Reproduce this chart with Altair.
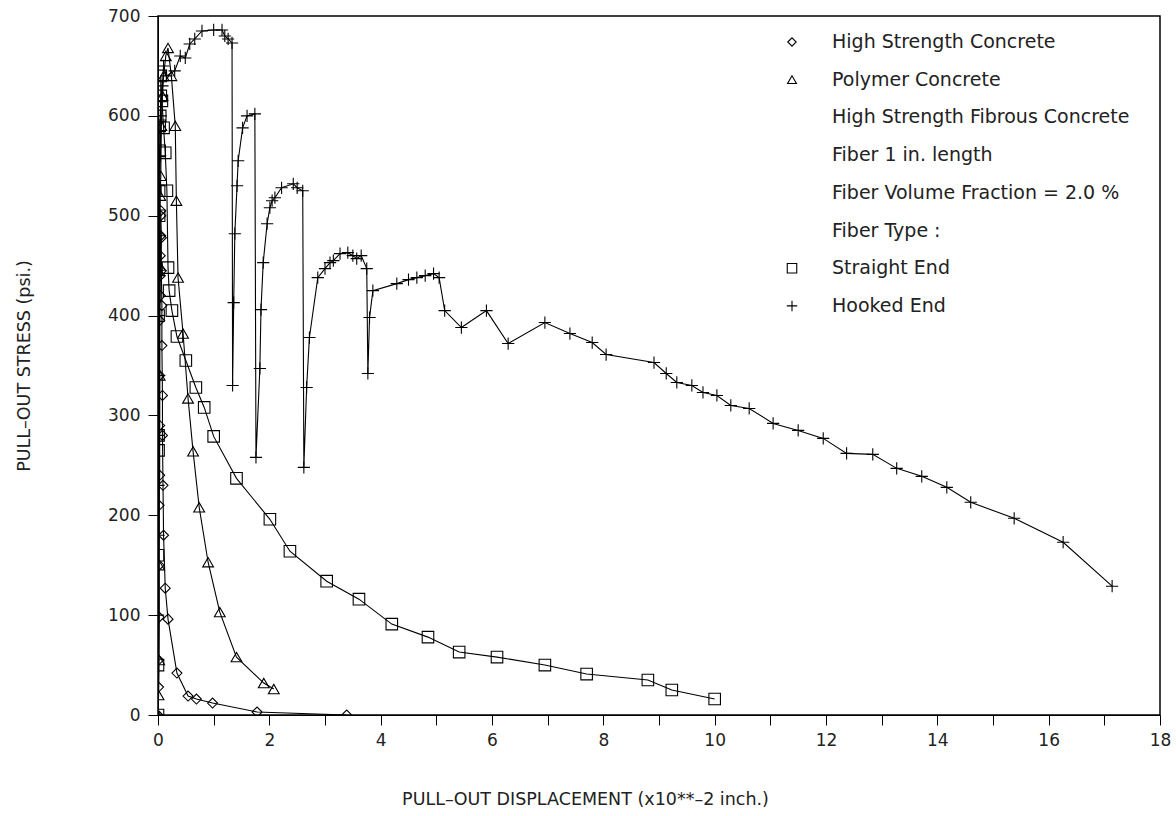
import altair as alt
import pandas as pd

# ---- data ----
hsc_x = [0, 0.01, 0.01, 0.02, 0.02, 0.02, 0.03, 0.03, 0.03, 0.03, 0.04, 0.04, 0.04, 0.05, 0.05, 0.05,
         0.06, 0.06, 0.07, 0.07, 0.08, 0.08, 0.09, 0.10, 0.13, 0.18, 0.34, 0.54, 0.69, 0.98, 1.78, 3.39]
hsc_y = [0, 28, 55, 98, 150, 210, 240, 290, 340, 395, 420, 440, 460, 480, 500, 505,
         478, 445, 410, 370, 320, 280, 230, 180, 127, 96, 42, 19, 16, 12, 3, 0]

poly_x = [0, 0.01, 0.02, 0.02, 0.03, 0.03, 0.04, 0.05, 0.06, 0.08, 0.10, 0.14, 0.18,
          0.24, 0.31, 0.33, 0.36, 0.45, 0.54, 0.63, 0.74, 0.90, 1.11, 1.41, 1.90, 2.08]
poly_y = [0, 20, 55, 150, 340, 450, 520, 540, 590, 620, 640, 660, 668,
          640, 590, 515, 438, 382, 317, 264, 208, 153, 103, 58, 32, 26]

str_x = [0, 0, 0, 0.01, 0.01, 0.01, 0.02, 0.02, 0.03, 0.03, 0.04, 0.05, 0.05,
         0.07, 0.10, 0.13, 0.16, 0.18, 0.20, 0.25, 0.34, 0.50, 0.68, 0.83, 1.00, 1.41,
         2.01, 2.37, 3.03, 3.61, 4.20, 4.85, 5.41, 6.09, 6.95, 7.70, 8.80, 9.23, 10.0]
str_y = [0, 50, 160, 265, 280, 400, 500, 525, 565, 590, 600, 620, 640,
         615, 588, 563, 525, 448, 425, 405, 379, 355, 328, 308, 279, 237,
         196, 164, 134, 116, 91, 78, 63, 58, 50, 41, 35, 25, 16]

hook_x = [0, 0, 0.01, 0.01, 0.01, 0.02, 0.02, 0.02, 0.03, 0.03, 0.04, 0.05, 0.06, 0.08, 0.10,
          0.15, 0.30, 0.40, 0.49, 0.57, 0.66, 0.79, 1.00, 1.15, 1.20, 1.26, 1.33,
          1.34, 1.36, 1.38, 1.42, 1.44, 1.52, 1.60, 1.74,
          1.76, 1.83, 1.85, 1.89, 1.96, 2.01, 2.05, 2.10, 2.22, 2.43, 2.50, 2.60,
          2.62, 2.67, 2.72, 2.87, 3.00, 3.09, 3.15, 3.27, 3.41, 3.50, 3.57, 3.65, 3.75,
          3.77, 3.80, 3.86, 4.29, 4.50, 4.65, 4.80, 4.95, 5.05, 5.15, 5.45, 5.90, 6.29,
          6.95, 7.40, 7.80, 8.05, 8.91, 9.13, 9.32, 9.59, 9.79, 10.04, 10.29, 10.62,
          11.05, 11.50, 11.95, 12.37, 12.84, 13.27, 13.72, 14.17, 14.60, 15.38, 16.26, 17.14]
hook_y = [0, 100, 180, 230, 280, 340, 400, 440, 480, 530, 560, 600, 615, 630, 650,
          640, 645, 660, 658, 672, 677, 685, 686, 686, 680, 677, 673,
          330, 413, 482, 530, 555, 588, 600, 602,
          258, 347, 406, 453, 492, 508, 515, 518, 528, 532, 528, 525,
          248, 328, 378, 438, 447, 453, 455, 462, 463, 460, 457, 460, 447,
          342, 398, 425, 432, 436, 438, 440, 442, 438, 405, 388, 405, 372,
          393, 382, 373, 361, 353, 342, 333, 330, 323, 320, 310, 307,
          292, 285, 277, 262, 261, 247, 239, 228, 213, 197, 173, 129]

series_names = ["High Strength Concrete", "Polymer Concrete", "Straight End", "Hooked End"]
legend_labels = ["High Strength Concrete", "Polymer Concrete", "High Strength Fibrous Concrete",
                 "Fiber 1 in. length", "Fiber Volume Fraction = 2.0 %", "Fiber Type :",
                 "Straight End", "Hooked End"]
x_ticks = list(range(0, 19))
y_ticks = list(range(0, 701, 100))

PLUS = "M-1,0H1M0,-1V1"
shapes = ["diamond", "triangle-up", "square", PLUS]
sizes = [100, 150, 150, 200]

rows = []
for name, xs, ys in zip(series_names, [hsc_x, poly_x, str_x, hook_x], [hsc_y, poly_y, str_y, hook_y]):
    for i, (a, b) in enumerate(zip(xs, ys)):
        rows.append({"series": name, "i": i, "x": a, "y": b})
df = pd.DataFrame(rows)

FONT = "DejaVu Sans"
W, H = 1002, 699

xenc = alt.X("x:Q", scale=alt.Scale(domain=[0, 18], nice=False),
             axis=alt.Axis(values=x_ticks, title="PULL\u2013OUT DISPLACEMENT (x10**\u20132 inch.)",
                           format="d",
                           labelExpr="datum.value % 2 == 0 ? datum.label : ''",
                           grid=False, tickSize=10, labelPadding=7,
                           titleX=427, titleY=84, titleAlign="center", titleBaseline="middle",
                           labelFontSize=17, titleFontSize=17.5, labelFont=FONT, titleFont=FONT,
                           titleFontWeight="normal", domainColor="black", tickColor="black",
                           labelColor="#222", titleColor="#222", labelFlush=False))
yenc = alt.Y("y:Q", scale=alt.Scale(domain=[0, 700], nice=False),
             axis=alt.Axis(values=y_ticks, title="PULL\u2013OUT STRESS (psi.)",
                           format="d",
                           grid=False, tickSize=10, labelPadding=8, titlePadding=74,
                           labelFontSize=17, titleFontSize=17.5, labelFont=FONT, titleFont=FONT,
                           titleFontWeight="normal", domainColor="black", tickColor="black",
                           labelColor="#222", titleColor="#222"))

base = alt.Chart(df)
lines = base.mark_line(color="black", strokeWidth=1.1, clip=True).encode(
    x=xenc, y=yenc, detail="series:N", order="i:Q")
points = base.mark_point(filled=False, color="black", strokeWidth=1.1, opacity=1, clip=True).encode(
    x="x:Q", y="y:Q",
    shape=alt.Shape("series:N", scale=alt.Scale(domain=series_names, range=shapes), legend=None),
    size=alt.Size("series:N", scale=alt.Scale(domain=series_names, range=sizes), legend=None))

layers = [lines, points]

row_y0, row_dy = 26, 37.7
sym_x, txt_x = 634, 674
for k, lab in enumerate(legend_labels):
    layers.append(alt.Chart(pd.DataFrame({"t": [lab]})).mark_text(
        align="left", baseline="middle", font=FONT, fontSize=19, color="#222").encode(
        text="t:N", x=alt.value(txt_x), y=alt.value(row_y0 + k * row_dy)))

sym_rows = {0: ("diamond", 70), 1: ("triangle-up", 80), 6: ("square", 90), 7: (PLUS, 110)}
for k, (shp, sz) in sym_rows.items():
    layers.append(alt.Chart(pd.DataFrame({"t": [k]})).mark_point(
        shape=shp, size=sz, filled=False, color="black", strokeWidth=1.1, opacity=1).encode(
        x=alt.value(sym_x), y=alt.value(row_y0 + k * row_dy)))

chart = alt.layer(*layers).properties(
    width=W, height=H,
    autosize=alt.AutoSizeParams(type="none"),
    padding={"left": 158, "top": 16, "right": 16, "bottom": 101},
    background="white",
).configure_view(stroke="black", strokeWidth=1.5)

chart.save("out.html", embed_options={"renderer": "svg", "actions": False})
